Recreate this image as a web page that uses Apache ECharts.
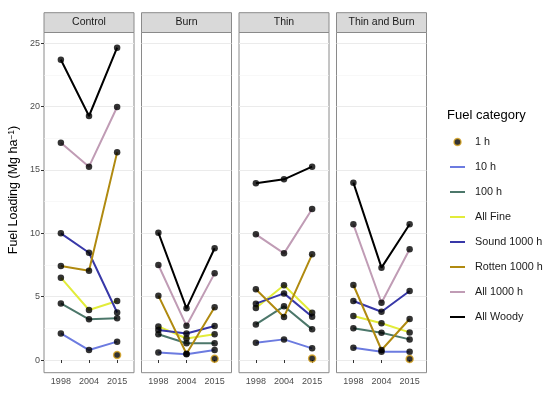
<!DOCTYPE html>
<html><head><meta charset="utf-8">
<script src="https://cdn.jsdelivr.net/npm/echarts@6/dist/echarts.min.js"></script>
<style>html,body{margin:0;padding:0;background:#fff}#c{width:550px;height:393px}</style>
</head><body><div id="c"></div>
<script>
// ---- data ----
const years = ['1998', '2004', '2015'];
const panels = ['Control', 'Burn', 'Thin', 'Thin and Burn'];
const categories = ['1 h', '10 h', '100 h', 'All Fine', 'Sound 1000 h', 'Rotten 1000 h', 'All 1000 h', 'All Woody'];
const yTicks = [0, 5, 10, 15, 20, 25];
const yMinorTicks = [2.5, 7.5, 12.5, 17.5, 22.5];
// each array: one [1998, 2004, 2015] triple per panel (Control, Burn, Thin, Thin and Burn)
const h1     = [[null, null, 0.39], [null, null, 0.1], [null, null, 0.13], [null, null, 0.08]];
const h10    = [[2.1, 0.79, 1.45], [0.6, 0.45, 0.79], [1.37, 1.63, 0.92], [0.97, 0.66, 0.66]];
const h100   = [[4.47, 3.21, 3.3], [2.03, 1.32, 1.32], [2.81, 4.24, 2.42], [2.5, 2.16, 1.63]];
const allFine = [[6.5, 3.95, 4.66], [2.65, 1.7, 2.03], [4.1, 5.9, 3.73], [3.47, 2.9, 2.18]];
const sound1000 = [[10.0, 8.47, 3.75], [2.37, 2.1, 2.68], [4.45, 5.26, 3.42], [4.66, 3.81, 5.45]];
const rotten1000 = [[7.42, 7.05, 16.39], [5.08, 0.5, 4.16], [5.58, 3.4, 8.34], [5.92, 0.79, 3.24]];
const all1000 = [[17.15, 15.26, 19.97], [7.5, 2.7, 6.84], [9.92, 8.42, 11.92], [10.71, 4.52, 8.74]];
const allWoody = [[23.7, 19.26, 24.65], [10.05, 4.08, 8.82], [13.95, 14.26, 15.26], [14.0, 7.29, 10.71]];

const lineSets = [
  ['10 h', h10], ['100 h', h100], ['All Fine', allFine], ['Sound 1000 h', sound1000],
  ['Rotten 1000 h', rotten1000], ['All 1000 h', all1000], ['All Woody', allWoody]
];

// ---- styles / layout ----
const colors = {
  '10 h': '#6C7BE0', '100 h': '#4C776A', 'All Fine': '#E2EC3A', 'Sound 1000 h': '#3838A8',
  'Rotten 1000 h': '#B08A10', 'All 1000 h': '#C09CB5', 'All Woody': '#000000'
};
const FONT = '"Liberation Sans", Arial, sans-serif';
const panelLeft = [44, 141.5, 239, 336.5];
const panelW = 90, panelTop = 32.5, panelH = 340.2;
const stripTop = 12.7, stripH = 19.8;
const yMin = -1.0, yMax = 25.85;
const borderCol = '#8A8A8A';
const oneHStyle = {color: '#000', borderColor: '#D9A520', borderWidth: 1.5};

const toXY = arr => arr.map((v, j) => [j + 1, v]);

const grids = [], xAxes = [], yAxes = [], series = [], graphics = [];
panels.forEach((p, i) => {
  grids.push({left: panelLeft[i], top: panelTop, width: panelW, height: panelH,
    show: true, borderColor: borderCol, borderWidth: 1, backgroundColor: '#fff'});
  xAxes.push({type: 'value', gridIndex: i, min: 0.4, max: 3.6,
    axisLine: {show: false}, splitLine: {show: false},
    axisTick: {show: true, customValues: [1, 2, 3], length: 3, lineStyle: {color: '#333'}},
    axisLabel: {show: true, customValues: [1, 2, 3], formatter: v => years[Math.round(v) - 1],
      fontFamily: FONT, fontSize: 9, color: '#4D4D4D', margin: 4}});
  yAxes.push({type: 'value', gridIndex: i, min: yMin, max: yMax,
    axisLine: {show: false},
    splitLine: {show: true, lineStyle: {color: '#EBEBEB', width: 1}},
    axisTick: {show: i === 0, customValues: yTicks, length: 3, lineStyle: {color: '#333'}},
    axisLabel: {show: i === 0, customValues: yTicks, fontFamily: FONT, fontSize: 9, color: '#4D4D4D', margin: 4}});
  yAxes.push({type: 'value', gridIndex: i, min: yMin, max: yMax,
    axisLine: {show: false}, axisLabel: {show: false},
    axisTick: {show: false, customValues: yMinorTicks},
    splitLine: {show: true, lineStyle: {color: '#F4F4F4', width: 0.6}}});

  lineSets.forEach(([name, arr]) => {
    series.push({type: 'line', name, xAxisIndex: i, yAxisIndex: 2 * i, data: toXY(arr[i]),
      symbol: 'none', color: colors[name], lineStyle: {color: colors[name], width: 2},
      z: 2, silent: true});
  });
  const pts = [];
  lineSets.forEach(([name, arr]) => toXY(arr[i]).forEach(d => pts.push(d)));
  series.push({type: 'scatter', name: 'points', xAxisIndex: i, yAxisIndex: 2 * i, data: pts,
    symbol: 'circle', symbolSize: 6.5, itemStyle: {color: '#000'}, z: 3, silent: true});
  series.push({type: 'scatter', name: '1 h', xAxisIndex: i, yAxisIndex: 2 * i,
    data: toXY(h1[i]).filter(d => d[1] != null),
    symbol: 'circle', symbolSize: 7, itemStyle: oneHStyle, z: 4, silent: true});

  graphics.push({type: 'rect', shape: {x: panelLeft[i], y: stripTop, width: panelW, height: stripH},
    style: {fill: '#D9D9D9', stroke: borderCol, lineWidth: 1}, z: 10});
  graphics.push({type: 'text', x: panelLeft[i] + panelW / 2, y: stripTop + stripH / 2,
    style: {text: p, font: '10.5px ' + FONT, fill: '#1A1A1A', align: 'center', verticalAlign: 'middle'}, z: 11});
});

graphics.push({type: 'text', x: 14, y: 190, rotation: Math.PI / 2,
  style: {text: '{a|Fuel Loading (Mg ha}{s|−1}{a|)}', align: 'center', verticalAlign: 'middle',
    rich: {a: {fontSize: 12.5, fontFamily: FONT, fill: '#000'},
           s: {fontSize: 8.5, fontFamily: FONT, fill: '#000', verticalAlign: 'top'}}}, z: 11});

const legendData = categories.map(c => c === '1 h'
  ? {name: c, icon: 'circle', itemStyle: oneHStyle}
  : {name: c, icon: 'path://M0,0L15,0L15,2L0,2Z', itemStyle: {color: colors[c], borderWidth: 0}});

const chart = echarts.init(document.getElementById('c'), null, {renderer: 'canvas'});
chart.setOption({
  animation: false,
  backgroundColor: '#fff',
  title: {text: 'Fuel category', left: 447, top: 109, padding: 0,
    textStyle: {fontFamily: FONT, fontSize: 13, fontWeight: 'normal', color: '#000'}},
  legend: {orient: 'vertical', left: 450, top: 136.5, padding: 0, itemWidth: 15, itemHeight: 7, itemGap: 14,
    data: legendData, selectedMode: false, symbolKeepAspect: true,
    textStyle: {fontFamily: FONT, fontSize: 10.8, color: '#1A1A1A', padding: [0, 0, 0, 5]}},
  grid: grids, xAxis: xAxes, yAxis: yAxes, series, graphic: graphics
});
</script></body></html>
